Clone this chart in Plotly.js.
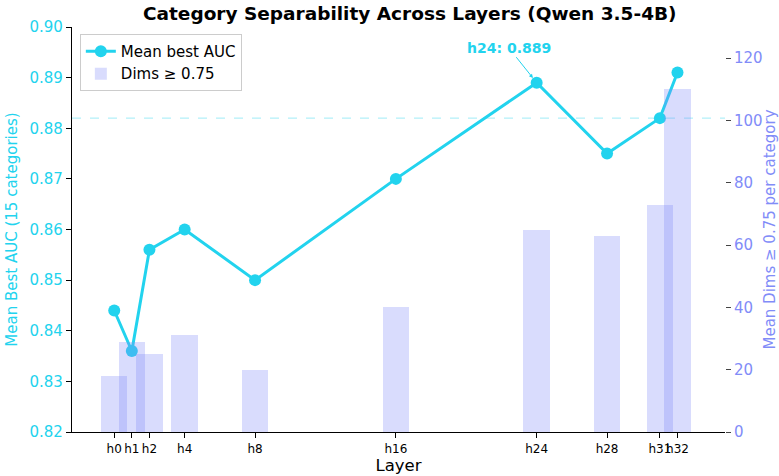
<!DOCTYPE html>
<html>
<head>
<meta charset="utf-8">
<script src="https://cdn.plot.ly/plotly-3.0.1.min.js"></script>
<style>html,body{margin:0;padding:0;background:#fff;}#chart{width:779px;height:476px;}</style>
</head>
<body>
<div id="chart"></div>
<script>
const layers = [0, 1, 2, 4, 8, 16, 24, 28, 31, 32];
const tickLabels = ["h0", "h1", "h2", "h4", "h8", "h16", "h24", "h28", "h31", "h32"];
const meanBestAUC = [0.844, 0.836, 0.856, 0.860, 0.850, 0.870, 0.889, 0.875, 0.882, 0.891];
const dimsAbove075 = [18, 29, 25, 31, 20, 40, 65, 63, 73, 110];
const refLineValue = 0.882;
const peakLayer = 24;
const peakValue = 0.889;

const cyan = "#22d3ee";
const indigo = "#818cf8";
const font = "DejaVu Sans, sans-serif";

const lineTrace = {
  x: layers, y: meanBestAUC, type: "scatter", mode: "lines+markers",
  name: "Mean best AUC", yaxis: "y",
  line: {color: cyan, width: 3},
  marker: {color: cyan, size: 12}
};
const barTrace = {
  x: layers, y: dimsAbove075, type: "bar", name: "Dims ≥ 0.75", yaxis: "y2",
  width: 1.5, marker: {color: "rgba(129,140,248,0.3)", line: {width: 0}}
};

const layout = {
  width: 779, height: 476,
  margin: {l: 72, r: 54, t: 27, b: 44},
  paper_bgcolor: "#fff", plot_bgcolor: "#fff",
  font: {family: font, color: "#000"},
  title: {text: "<b>Category Separability Across Layers (Qwen 3.5-4B)</b>", x: 0.526, xanchor: "center", y: 0.972, yanchor: "middle", font: {size: 18.5, family: font, color: "#000"}},
  showlegend: true,
  legend: {x: 0.012, y: 0.983, xanchor: "left", yanchor: "top", bgcolor: "rgba(255,255,255,0.9)", bordercolor: "#cccccc", borderwidth: 1, font: {size: 15, family: font}, tracegroupgap: 2},
  bargap: 0,
  xaxis: {
    range: [-2.4, 34.7], tickvals: layers, ticktext: tickLabels, tickangle: 0,
    showgrid: false, zeroline: false, showline: true, linecolor: "#000", linewidth: 1.2,
    ticks: "outside", ticklen: 5, tickcolor: "#000",
    tickfont: {size: 12, family: font, color: "#000"},
    title: {text: "Layer", font: {size: 16.5, family: font, color: "#000"}, standoff: 4}
  },
  yaxis: {
    range: [0.82, 0.90], dtick: 0.01, tickformat: ".2f",
    showgrid: false, zeroline: false, showline: true, linecolor: "#000", linewidth: 1.2,
    ticks: "outside", ticklen: 5, tickcolor: "#000",
    tickfont: {size: 15, family: font, color: cyan},
    title: {text: "Mean Best AUC (15 categories)", font: {size: 15, family: font, color: cyan}, standoff: 8}
  },
  yaxis2: {
    range: [0, 130], dtick: 20, overlaying: "y", side: "right",
    showgrid: false, zeroline: false, showline: false,
    ticks: "outside", ticklen: 5, tickcolor: "#444",
    tickfont: {size: 15, family: font, color: indigo},
    title: {text: "Mean Dims ≥ 0.75 per category", font: {size: 15, family: font, color: indigo}, standoff: 8}
  },
  shapes: [{
    type: "line", xref: "paper", x0: 0, x1: 1, yref: "y", y0: refLineValue, y1: refLineValue,
    line: {color: "rgba(34,211,238,0.35)", width: 1.2, dash: "dash"}, layer: "below"
  }],
  annotations: [{
    x: peakLayer, y: peakValue, xref: "x", yref: "y",
    text: "<b>h" + peakLayer + ": " + peakValue.toFixed(3) + "</b>",
    showarrow: true, arrowhead: 2, arrowsize: 0.8, arrowwidth: 1, arrowcolor: cyan,
    ax: -28, ay: -35, standoff: 6,
    font: {size: 14, family: font, color: cyan}
  }]
};

Plotly.newPlot("chart", [lineTrace, barTrace], layout, {displayModeBar: false, staticPlot: true});
</script>
</body>
</html>
